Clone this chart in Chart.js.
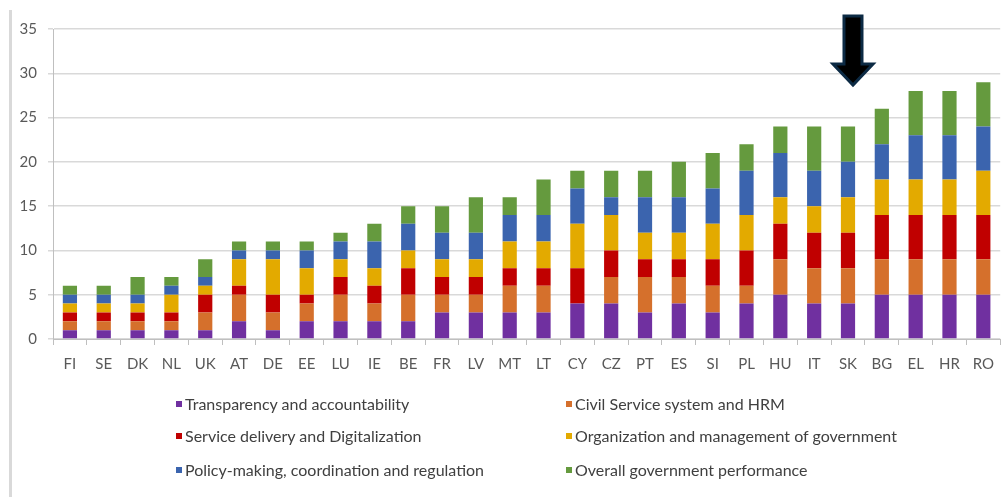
<!DOCTYPE html>
<html>
<head>
<meta charset="utf-8">
<script src="https://cdn.jsdelivr.net/npm/chart.js@4"></script>
<style>
  html, body { margin: 0; padding: 0; background: #fff; }
  #wrap { position: relative; width: 1004px; height: 497px; overflow: hidden; }
  #border { position: absolute; left: 9px; top: 10px; width: 3px; height: 487px; background: #d9d9d9; }
  canvas { position: absolute; left: 0; top: 0; }
  .lg { position: absolute; font-family: Lato, "Open Sans", sans-serif; font-size: 16px; color: #404040; white-space: nowrap; line-height: 18px; }
  .lg i { position: absolute; left: -9px; top: 6px; width: 6px; height: 6px; }
</style>
</head>
<body>
<div id="wrap">
  <div id="border"></div>
  <canvas id="c" width="1004" height="497"></canvas>
  <div id="legend"></div>
</div>
<script>
const categories = ["FI","SE","DK","NL","UK","AT","DE","EE","LU","IE","BE","FR","LV","MT","LT","CY","CZ","PT","ES","SI","PL","HU","IT","SK","BG","EL","HR","RO"];
const seriesNames = ["Transparency and accountability","Civil Service system and HRM","Service delivery and Digitalization","Organization and management of government","Policy-making, coordination and regulation","Overall government performance"];
const transparency = [1,1,1,1,1,2,1,2,2,2,2,3,3,3,3,4,4,3,4,3,4,5,4,4,5,5,5,5];
const civilService = [1,1,1,1,2,3,2,2,3,2,3,2,2,3,3,0,3,4,3,3,2,4,4,4,4,4,4,4];
const serviceDelivery = [1,1,1,1,2,1,2,1,2,2,3,2,2,2,2,4,3,2,2,3,4,4,4,4,5,5,5,5];
const organization = [1,1,1,2,1,3,4,3,2,2,2,2,2,3,3,5,4,3,3,4,4,3,3,4,4,4,4,5];
const policyMaking = [1,1,1,1,1,1,1,2,2,3,3,3,3,3,3,4,2,4,4,4,5,5,4,4,4,5,5,5];
const overall = [1,1,2,1,2,1,1,1,1,2,2,3,4,2,4,2,3,3,4,4,3,3,5,4,4,5,5,5];
const yTicks = [0,5,10,15,20,25,30,35];
const highlighted = "SK";

const colors = ["#7030A0","#D5702C","#C00000","#E3AA00","#3B64AE","#659A3E"];
const seriesData = [transparency, civilService, serviceDelivery, organization, policyMaking, overall];

const FONT = 'Lato, "Open Sans", sans-serif';

const arrowPlugin = {
  id: 'arrow',
  afterDraw(chart) {
    const x = chart.scales.x.getPixelForValue(categories.indexOf(highlighted)) + 5;
    const ctx = chart.ctx;
    ctx.save();
    ctx.beginPath();
    ctx.moveTo(x - 9, 16);
    ctx.lineTo(x + 9, 16);
    ctx.lineTo(x + 9, 64);
    ctx.lineTo(x + 20, 64);
    ctx.lineTo(x, 85);
    ctx.lineTo(x - 20, 64);
    ctx.lineTo(x - 9, 64);
    ctx.closePath();
    ctx.fillStyle = '#000';
    ctx.fill();
    ctx.lineWidth = 3;
    ctx.strokeStyle = '#0c2a44';
    ctx.lineJoin = 'miter';
    ctx.stroke();
    ctx.restore();
  }
};

new Chart(document.getElementById('c'), {
  type: 'bar',
  data: {
    labels: categories,
    datasets: seriesData.map((d, i) => ({
      label: seriesNames[i],
      data: d,
      backgroundColor: colors[i],
      borderWidth: 0,
      barPercentage: 0.42,
      categoryPercentage: 1.0
    }))
  },
  options: {
    responsive: false,
    animation: false,
    layout: { padding: { left: 0, right: 2, top: 29, bottom: 0 } },
    plugins: { legend: { display: false }, tooltip: { enabled: false } },
    scales: {
      x: {
        stacked: true,
        grid: { display: true, drawOnChartArea: false, drawTicks: true, tickLength: 6, color: '#bfbfbf', offset: true },
        border: { display: true, color: '#bfbfbf', width: 1 },
        ticks: { color: '#595959', font: { family: FONT, size: 15 }, padding: 10, maxRotation: 0, autoSkip: false },
        afterFit(s) { s.height = 158; }
      },
      y: {
        stacked: true,
        min: 0, max: 35,
        afterBuildTicks(s) { s.ticks = yTicks.map(v => ({ value: v })); },
        grid: { color: '#d9d9d9', lineWidth: 1.5, tickLength: 5, drawTicks: true },
        border: { display: true, color: '#bfbfbf', width: 1 },
        ticks: { color: '#595959', font: { family: FONT, size: 15 }, padding: 11 },
        afterFit(s) { s.width = 53; }
      }
    }
  },
  plugins: [arrowPlugin]
});

// legend (two columns, three rows)
const legendPos = [[185,395],[575,395],[185,427],[575,427],[185,461],[575,461]];
const lg = document.getElementById('legend');
seriesNames.forEach((n, i) => {
  const d = document.createElement('div');
  d.className = 'lg';
  d.style.left = legendPos[i][0] + 'px';
  d.style.top = legendPos[i][1] + 'px';
  d.innerHTML = '<i style="background:' + colors[i] + '"></i>' + n;
  lg.appendChild(d);
});
</script>
</body>
</html>
